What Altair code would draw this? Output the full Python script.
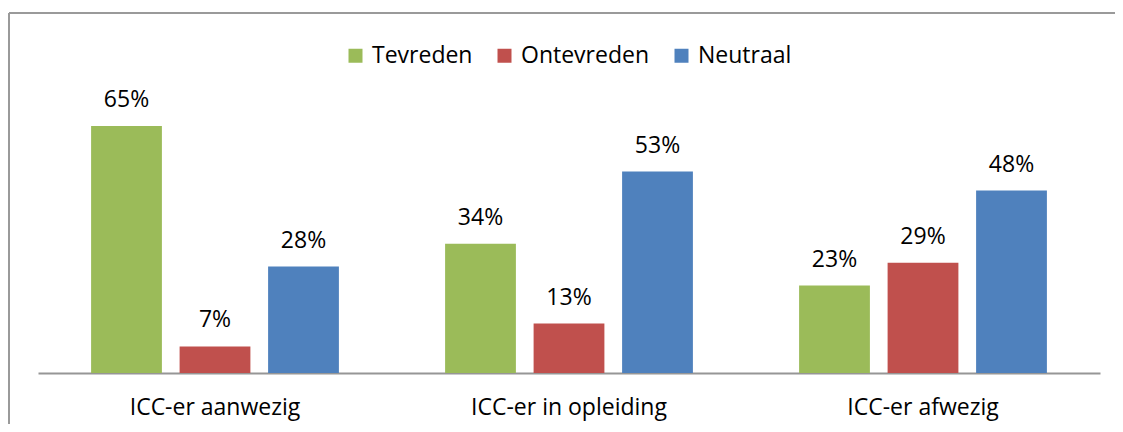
import altair as alt
import pandas as pd

categories = ["ICC-er aanwezig", "ICC-er in opleiding", "ICC-er afwezig"]
series = ["Tevreden", "Ontevreden", "Neutraal"]
tevreden = [65, 34, 23]
ontevreden = [7, 13, 29]
neutraal = [28, 53, 48]
colors = ["#9BBB59", "#C0504D", "#4F81BD"]

rows = []
for i, c in enumerate(categories):
    for s, vals in zip(series, [tevreden, ontevreden, neutraal]):
        rows.append({"cat": c, "serie": s, "val": vals[i], "lab": f"{vals[i]}%"})
df = pd.DataFrame(rows)

FONT = "Open Sans"
FS = 23

x_enc = alt.X("cat:N", sort=categories, title=None,
              scale=alt.Scale(paddingInner=0, paddingOuter=0),
              axis=alt.Axis(labelAngle=0, labelFontSize=FS, labelColor="#000000",
                            labelFont=FONT, labelPadding=23, labelLimit=0, ticks=False,
                            domainColor="#969696", domainWidth=2, grid=False))
xo_enc = alt.XOffset("serie:N", sort=series,
                     scale=alt.Scale(paddingInner=0.2, paddingOuter=0.6))
y_enc = alt.Y("val:Q", scale=alt.Scale(domain=[0, 70], nice=False, zero=True),
              axis=None)

bars = alt.Chart(df).mark_bar().encode(
    x=x_enc, xOffset=xo_enc, y=y_enc,
    color=alt.Color("serie:N", sort=series,
                    scale=alt.Scale(domain=series, range=colors),
                    legend=alt.Legend(title=None, orient="none", direction="horizontal",
                                      legendX=306, legendY=-63, symbolType="square",
                                      symbolSize=196, symbolStrokeWidth=0,
                                      labelFontSize=FS, labelFont=FONT,
                                      labelColor="#000000", labelOffset=5,
                                      columnPadding=20, symbolOpacity=1)),
)

labels = alt.Chart(df).mark_text(fontSize=FS, font=FONT, color="#000000",
                                 baseline="alphabetic", dy=-19).encode(
    x=alt.X("cat:N", sort=categories), xOffset=alt.XOffset("serie:N", sort=series),
    y="val:Q", text="lab:N")

one = pd.DataFrame({"a": [0]})
top_line = alt.Chart(one).mark_rule(color="#9a9a9a", strokeWidth=2).encode(
    x=alt.value(-29), x2=alt.value(1077), y=alt.value(-94))
left_line = alt.Chart(one).mark_rule(color="#9a9a9a", strokeWidth=2).encode(
    x=alt.value(-29), y=alt.value(-94), y2=alt.value(317))

chart = alt.layer(bars, labels, top_line, left_line).properties(
    width=1062, height=266,
    padding={"left": 30, "top": 99, "right": 15, "bottom": 51},
    autosize=alt.AutoSizeParams(type="none"),
).configure(background="#ffffff").configure_view(stroke=None, strokeWidth=0)

chart.save("out.html", embed_options={"renderer": "svg", "actions": False})
